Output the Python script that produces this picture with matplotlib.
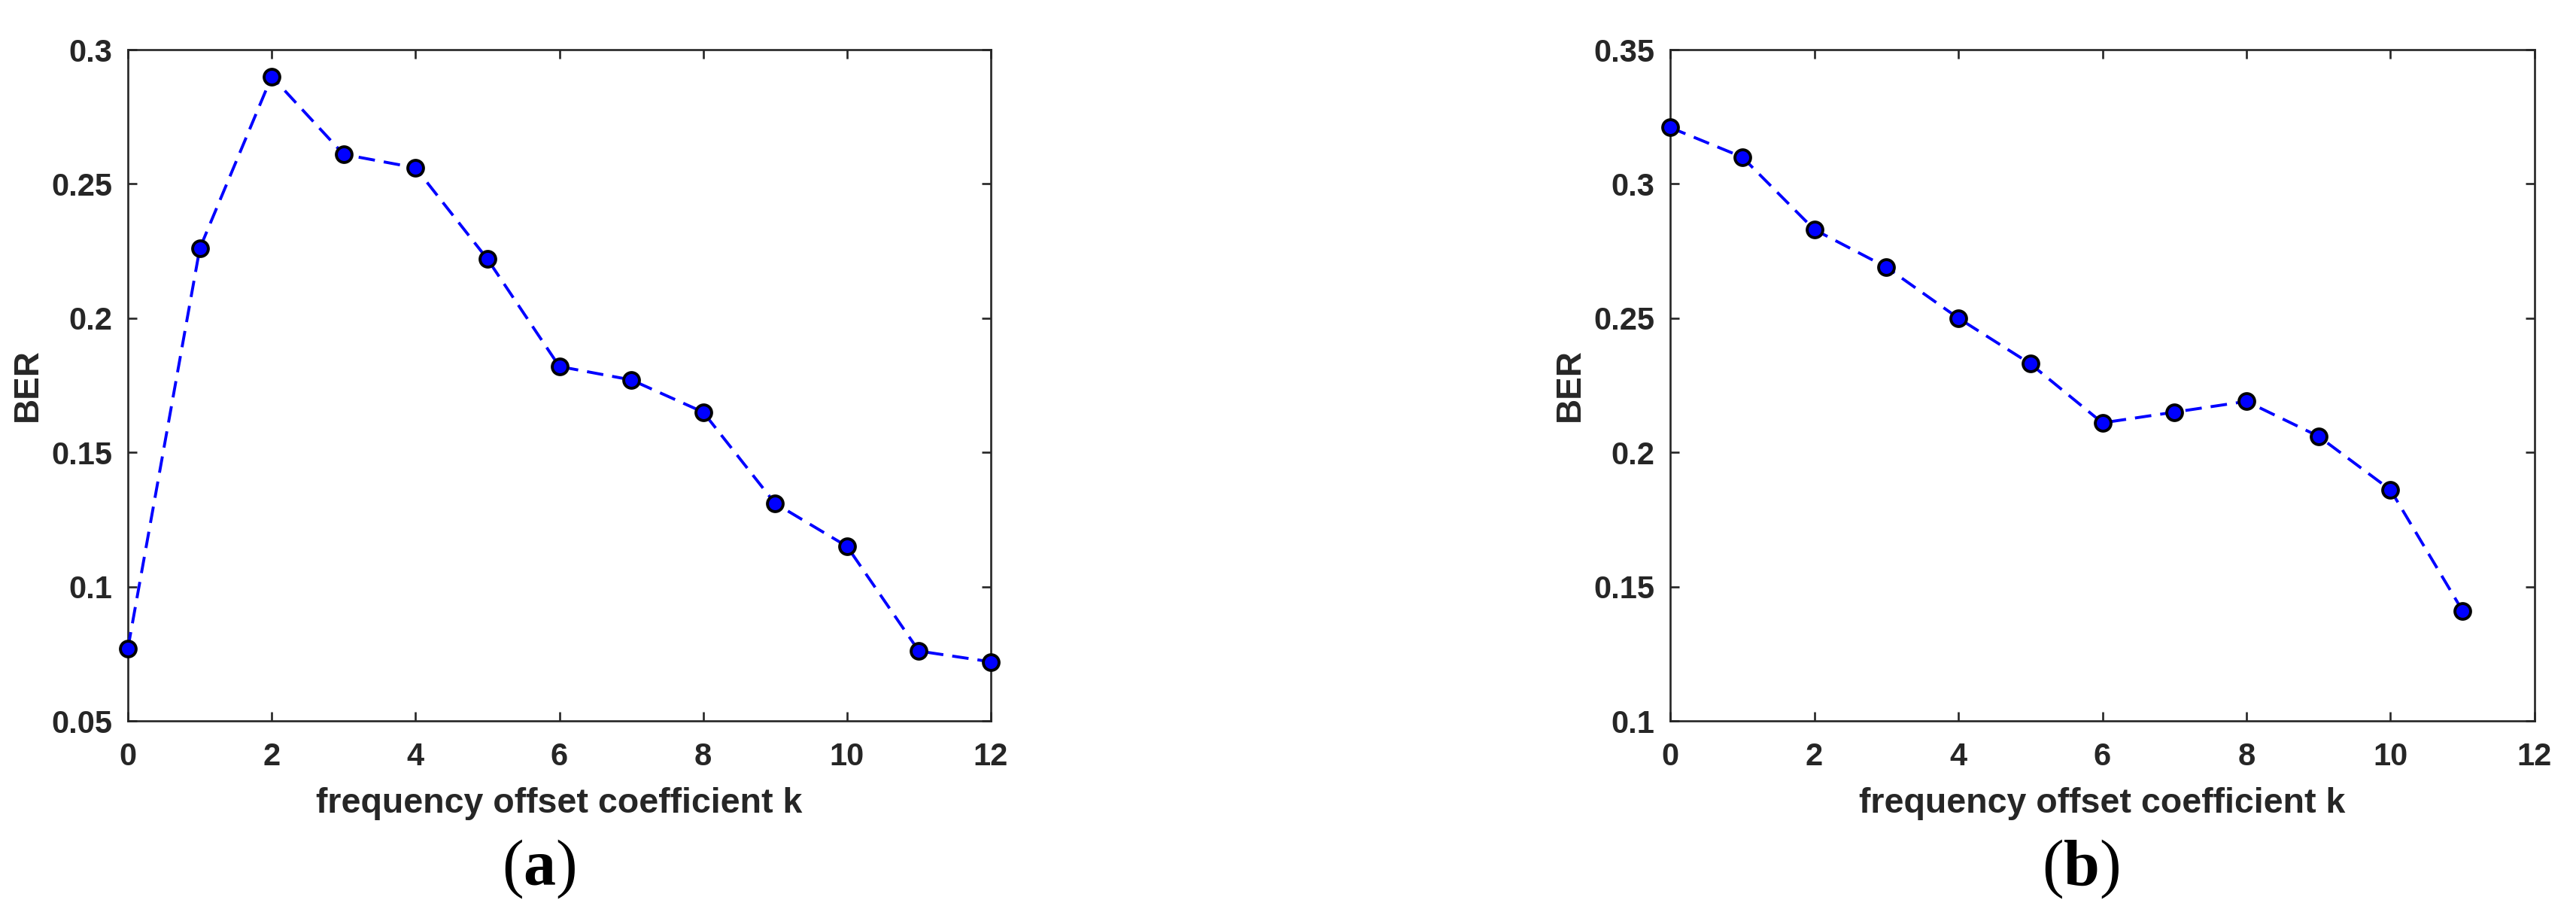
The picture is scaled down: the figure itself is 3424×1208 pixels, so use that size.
import matplotlib
matplotlib.use("Agg")
import matplotlib.pyplot as plt
from matplotlib.ticker import FormatStrFormatter

plt.rcParams['font.family'] = ['Liberation Sans', 'DejaVu Sans']
plt.rcParams['mathtext.fontset'] = 'custom'
plt.rcParams['mathtext.rm'] = 'Liberation Serif'
plt.rcParams['mathtext.bf'] = 'Liberation Serif:bold'
plt.rcParams['lines.scale_dashes'] = False

# data
k_a = [0, 1, 2, 3, 4, 5, 6, 7, 8, 9, 10, 11, 12]
ber_a = [0.077, 0.226, 0.290, 0.261, 0.256, 0.222, 0.182, 0.177, 0.165, 0.131, 0.115, 0.076, 0.072]
k_b = [0, 1, 2, 3, 4, 5, 6, 7, 8, 9, 10, 11]
ber_b = [0.321, 0.310, 0.283, 0.269, 0.250, 0.233, 0.211, 0.215, 0.219, 0.206, 0.186, 0.141]
yticks_a = [0.05, 0.1, 0.15, 0.2, 0.25, 0.3]
yticks_b = [0.1, 0.15, 0.2, 0.25, 0.3, 0.35]
xticks = [0, 2, 4, 6, 8, 10, 12]

txt = '#262626'
W, H = 3424, 1208
fig = plt.figure(figsize=(W / 100, H / 100), dpi=100)

ax1 = fig.add_axes([170 / W, 1 - 958 / H, 1147 / W, 892 / H])
ax2 = fig.add_axes([2220 / W, 1 - 958 / H, 1149 / W, 892 / H])


def style(ax, x, y, yticks):
    ax.plot(x, y, color='#0000ff', linestyle=(0, (15.8, 8.6)), linewidth=2.8,
            marker='o', markersize=15, markerfacecolor='#0000ff',
            markeredgecolor='black', markeredgewidth=2.8, clip_on=False, zorder=3)
    ax.set_xlim(0, 12)
    ax.set_ylim(yticks[0], yticks[-1])
    ax.set_xticks(xticks)
    ax.set_yticks(yticks)
    ax.yaxis.set_major_formatter(FormatStrFormatter('%g'))
    ax.tick_params(axis='both', direction='in', top=True, right=True,
                   length=8.6, width=1.9, color=txt, labelcolor=txt, labelsize=30)
    ax.tick_params(axis='x', pad=20)
    ax.tick_params(axis='y', pad=15)
    for lab in ax.get_xticklabels() + ax.get_yticklabels():
        lab.set_fontweight('bold')
    for s in ax.spines.values():
        s.set_linewidth(1.9)
        s.set_color(txt)
    ax.set_xlabel('frequency offset coefficient k', fontsize=33.5, color=txt, fontweight='bold')
    ax.set_ylabel('BER', fontsize=33, color=txt, fontweight='bold')
    ax.xaxis.set_label_coords(0.5, (958 - 1046) / 892)
    ax.yaxis.set_label_coords(-0.097, 0.5)


style(ax1, k_a, ber_a, yticks_a)
style(ax2, k_b, ber_b, yticks_b)

fig.text(716 / W, 1 - 1155 / H, r'$(\mathbf{a})$', fontsize=62, color='black',
         ha='center', va='center')
fig.text(2766 / W, 1 - 1155 / H, r'$(\mathbf{b})$', fontsize=62, color='black',
         ha='center', va='center')

fig.savefig('out.png', dpi=100, facecolor='white')
